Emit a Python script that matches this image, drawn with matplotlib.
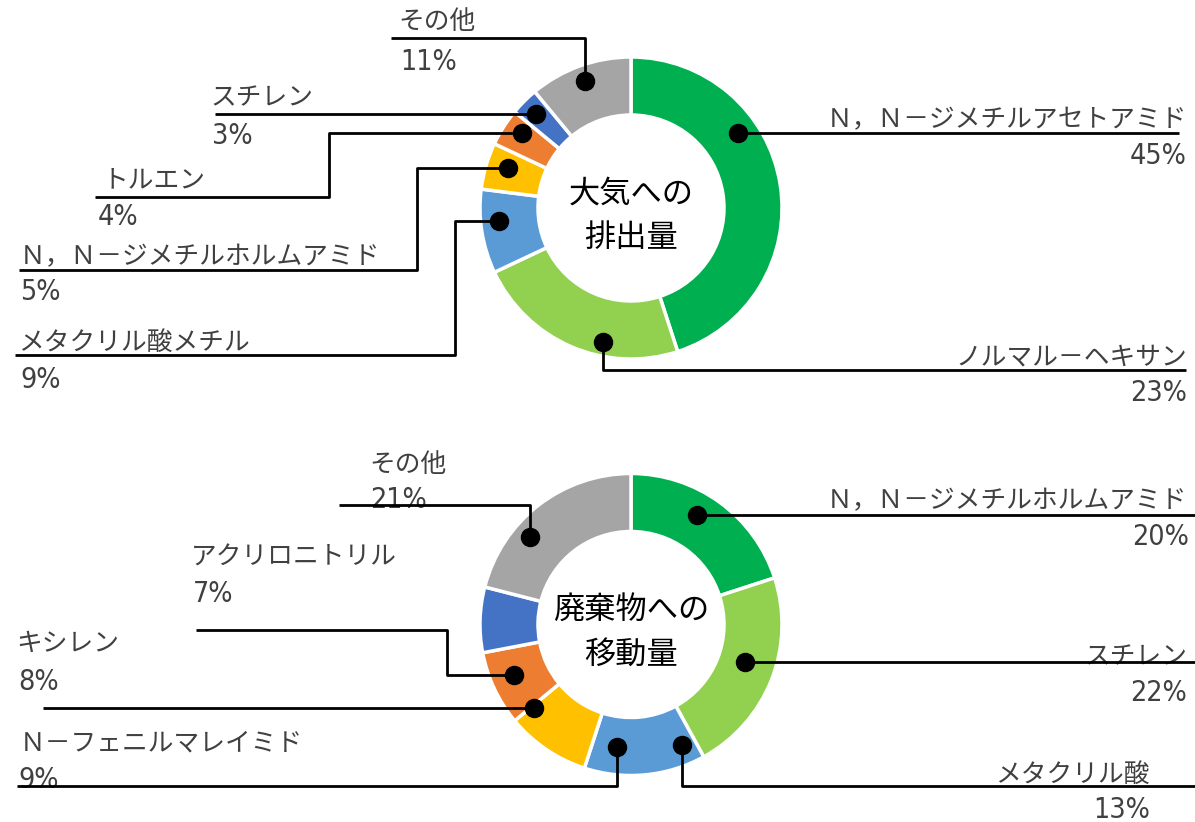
import matplotlib.pyplot as plt
import numpy as np

plt.rcParams['font.family'] = ['Noto Sans CJK JP', 'DejaVu Sans']

W, H = 1195, 822

# 大気への排出量
air_names = ["Ｎ，Ｎ－ジメチルアセトアミド", "ノルマル－ヘキサン", "メタクリル酸メチル",
             "Ｎ，Ｎ－ジメチルホルムアミド", "トルエン", "スチレン", "その他"]
air_values = [45, 23, 9, 5, 4, 3, 11]

# 廃棄物への移動量
waste_names = ["Ｎ，Ｎ－ジメチルホルムアミド", "スチレン", "メタクリル酸",
               "Ｎ－フェニルマレイミド", "キシレン", "アクリロニトリル", "その他"]
waste_values = [20, 22, 13, 9, 8, 7, 21]

colors = ["#00B050", "#92D050", "#5B9BD5", "#FFC000", "#ED7D31", "#4472C4", "#A5A5A5"]

# レイアウト (ピクセル座標)
# anchor: 円周上の位置(%), r: 半径, tx,ty: 名前, px,py: 割合, ly: 線のy, xe: 線の端, ex: 折れ点
air_layout = [
    dict(anchor=15.3, r=131, tx=1187, ty=120, px=1187, py=156, ha='right', ly=None, xe=1179, ex=None),
    dict(anchor=53.3, r=137, tx=1187, ty=357, px=1187, py=393, ha='right', ly=370, xe=1186, ex=None),
    dict(anchor=73.4, r=133, tx=18, ty=343, px=20, py=380, ha='left', ly=355, xe=15, ex=455),
    dict(anchor=80.0, r=129, tx=20, ty=257, px=20, py=292, ha='left', ly=270, xe=19, ex=417),
    dict(anchor=84.6, r=132, tx=103, ty=180, px=98, py=217, ha='left', ly=197, xe=95, ex=329),
    dict(anchor=87.4, r=134, tx=210, ty=98, px=212, py=136, ha='left', ly=None, xe=215, ex=None),
    dict(anchor=94.5, r=135, tx=398, ty=22, px=400, py=62, ha='left', ly=38, xe=391, ex=None),
]
waste_layout = [
    dict(anchor=8.6, r=128, tx=1187, ty=501, px=1189, py=537, ha='right', ly=None, xe=1195, ex=None),
    dict(anchor=30.1, r=120, tx=1187, ty=657, px=1187, py=693, ha='right', ly=None, xe=1195, ex=None),
    dict(anchor=43.6, r=131, tx=1150, ty=775, px=1150, py=810, ha='right', ly=786, xe=1195, ex=None),
    dict(anchor=51.8, r=123, tx=20, ty=743, px=18, py=780, ha='left', ly=786, xe=17, ex=None),
    dict(anchor=63.7, r=128, tx=16, ty=644, px=18, py=682, ha='left', ly=None, xe=43, ex=None),
    dict(anchor=68.5, r=127, tx=191, ty=558, px=193, py=594, ha='left', ly=630, xe=196, ex=447),
    dict(anchor=86.4, r=134, tx=369, ty=465, px=370, py=500, ha='left', ly=505, xe=339, ex=None),
]

fig = plt.figure(figsize=(W / 100, H / 100), dpi=100)
ax = fig.add_axes([0, 0, 1, 1])


def donut(cx, cy, names, values, layout, title):
    ax.pie(values, colors=colors, center=(cx, cy), radius=151, startangle=-90,
           counterclock=True, wedgeprops=dict(width=58, edgecolor='white', linewidth=2.5))
    ax.text(cx, cy + 8, title, ha='center', va='center', fontsize=22.5, color='black',
            linespacing=1.5)
    for name, val, lay in zip(names, values, layout):
        a = np.deg2rad(-90 + 3.6 * lay['anchor'])
        dx = cx + lay['r'] * np.cos(a)
        dy = cy + lay['r'] * np.sin(a)
        if lay['ly'] is None:
            xs, ys = [lay['xe'], dx], [dy, dy]
        else:
            ex = dx if lay['ex'] is None else lay['ex']
            xs = [lay['xe'], ex, ex, dx]
            ys = [lay['ly'], lay['ly'], dy, dy]
        ax.plot(xs, ys, color='black', lw=2, zorder=4, solid_capstyle='butt')
        ax.plot(dx, dy, 'o', color='black', ms=13, zorder=5)
        ax.text(lay['tx'], lay['ty'], name, ha=lay['ha'], va='center', fontsize=18.5,
                color='#404040', zorder=3)
        ax.text(lay['px'], lay['py'], f"{val}%", ha=lay['ha'], va='center', fontsize=20.5,
                color='#404040', family='DejaVu Sans', fontstretch='condensed', zorder=3)


donut(631, 208, air_names, air_values, air_layout, "大気への\n排出量")
donut(631, 624.5, waste_names, waste_values, waste_layout, "廃棄物への\n移動量")

ax.set_xlim(0, W)
ax.set_ylim(H, 0)
ax.axis('off')
fig.savefig("out.png", dpi=100)
